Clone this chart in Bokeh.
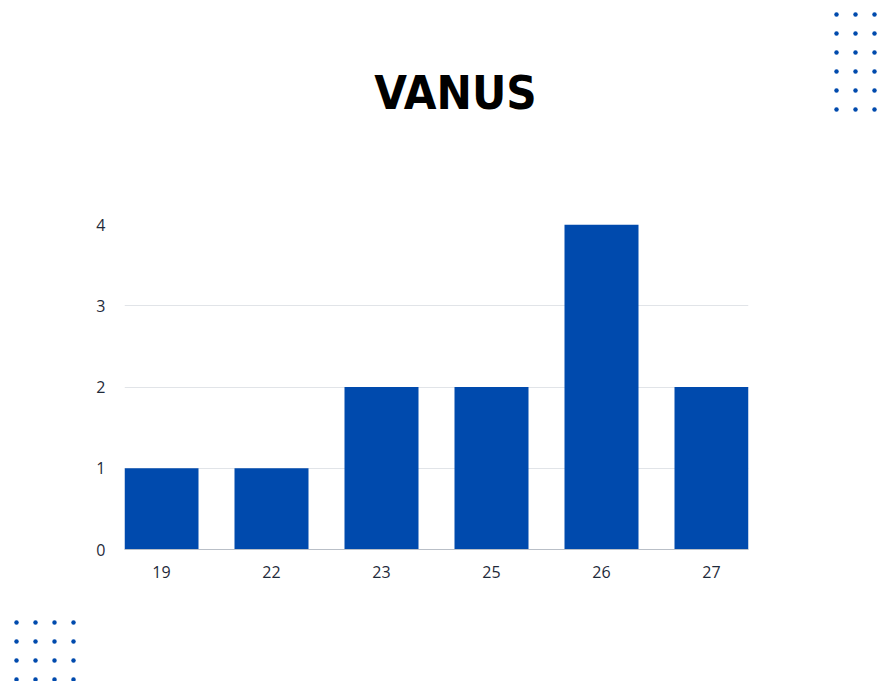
from bokeh.plotting import figure
from bokeh.layouts import column
from bokeh.models import Range1d, FixedTicker
from bokeh.core.properties import value
from bokeh.embed import file_html
from bokeh.resources import INLINE

# Data
ages = ["19", "22", "23", "25", "26", "27"]
counts = [1, 1, 2, 2, 4, 2]
y_ticks = [0, 1, 2, 3, 4]

BLUE = "#004aad"
TEXT = "#1f2a3a"
W = 893
TOP_H, CHART_H, BOTTOM_H = 180, 420, 81


def deco_figure(h):
    """Blank full-width strip whose data units equal pixels (y grows downward)."""
    f = figure(width=W, height=h, x_range=Range1d(0, W), y_range=Range1d(h, 0),
               x_axis_type=None, y_axis_type=None, output_backend="svg",
               toolbar_location=None, min_border=0)
    f.frame_align = False
    f.outline_line_color = None
    f.grid.visible = False
    f.background_fill_color = "white"
    f.border_fill_color = "white"
    return f


def dot_grid(f, x0, y0, ncol, nrow, step):
    xs = [x0 + c * step for c in range(ncol) for r in range(nrow)]
    ys = [y0 + r * step for c in range(ncol) for r in range(nrow)]
    f.scatter(xs, ys, size=4.5, color=BLUE, line_color=None)


# header strip: title and dot grid
top = deco_figure(TOP_H)
top.text(x=[455], y=[92], text=["VANUS"],
         text_font=value("'DejaVu Sans Condensed', 'DejaVu Sans', sans-serif"),
         text_font_style="bold", text_font_size="47px", text_color="black",
         text_align="center", text_baseline="middle")
dot_grid(top, 836, 14, 3, 6, 19)

# bar chart
FRAME_L, FRAME_R = 124, 748
bar_w = 74 / 110
xs = list(range(len(ages)))

p = figure(
    width=W, height=CHART_H,
    x_range=Range1d(-bar_w / 2, len(ages) - 1 + bar_w / 2),
    y_range=Range1d(0, 4),
    output_backend="svg", toolbar_location=None,
    min_border_left=FRAME_L, min_border_right=W - FRAME_R,
    min_border_top=224 - TOP_H, min_border_bottom=TOP_H + CHART_H - 549,
)
p.frame_align = False
p.outline_line_color = None
p.background_fill_color = "white"
p.border_fill_color = "white"

p.vbar(x=xs, top=counts, width=bar_w, color=BLUE, line_color=None)

xa = p.xaxis[0]
xa.ticker = FixedTicker(ticks=xs)
xa.major_label_overrides = {i: a for i, a in enumerate(ages)}
xa.axis_line_color = "#b9bfc7"
xa.major_tick_line_color = None
xa.minor_tick_line_color = None
xa.major_label_standoff = 10
xa.major_label_text_font = "Open Sans"
xa.major_label_text_font_size = "16px"
xa.major_label_text_color = TEXT

ya = p.yaxis[0]
ya.ticker = FixedTicker(ticks=y_ticks)
ya.axis_line_color = None
ya.major_tick_line_color = None
ya.minor_tick_line_color = None
ya.major_label_standoff = 13
ya.major_label_text_font = "Open Sans"
ya.major_label_text_font_size = "16px"
ya.major_label_text_color = TEXT

p.xgrid.grid_line_color = None
p.ygrid.grid_line_color = "#e1e4e8"
p.ygrid.ticker = FixedTicker(ticks=y_ticks)

# footer strip: dot grid
bottom = deco_figure(BOTTOM_H)
dot_grid(bottom, 16, 622 - TOP_H - CHART_H, 4, 4, 19)

layout = column(top, p, bottom, spacing=0)
open("out.html", "w").write(file_html(layout, INLINE))
